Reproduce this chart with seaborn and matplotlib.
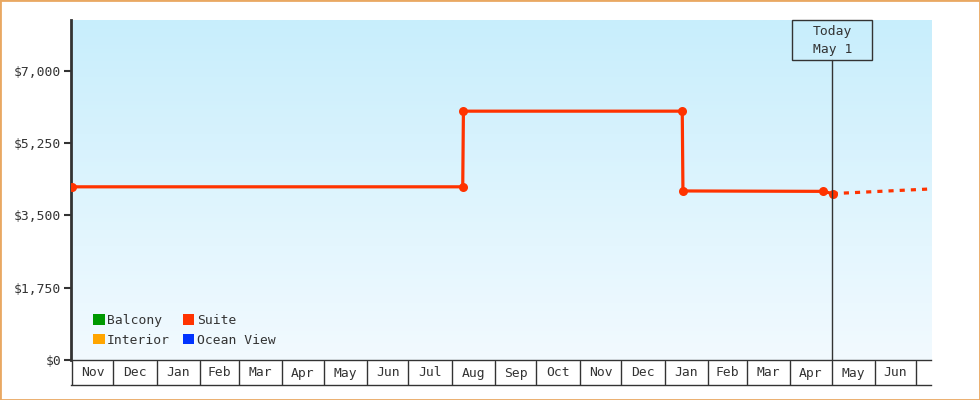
import numpy as np
import pandas as pd
import matplotlib
matplotlib.use("Agg")
import matplotlib.pyplot as plt
import matplotlib.dates as mdates
from matplotlib.patches import Patch, Rectangle
from matplotlib.colors import LinearSegmentedColormap
from matplotlib.ticker import FuncFormatter
import seaborn as sns

# ── Data ──────────────────────────────────────────────────────────────────────
price_dates = ["2024-11-01 00:00", "2025-08-09 00:00", "2025-08-09 12:00", "2026-01-13 18:00",
               "2026-01-14 06:00", "2026-04-25 00:00", "2026-05-01 20:00"]
price_suite = [4189, 4189, 6019, 6019, 4089, 4079, 4025]

forecast_dates = ["2026-05-01 20:00", "2026-07-11 00:00"]
forecast_suite = [4025, 4137]

today = pd.Timestamp("2026-05-01 12:00")
today_label = "Today\nMay 1"

legend_names = ["Balcony", "Interior", "Suite", "Ocean View"]
legend_colors = ["#009900", "#ffa500", "#ff3300", "#0033ff"]

y_ticks = [0, 1750, 3500, 5250, 7000]
y_max = 8224

x_start = pd.Timestamp("2024-10-31 12:00")
x_end = pd.Timestamp("2026-07-11 12:00")
month_labels = ["Nov", "Dec", "Jan", "Feb", "Mar", "Apr", "May", "Jun", "Jul", "Aug",
                "Sep", "Oct", "Nov", "Dec", "Jan", "Feb", "Mar", "Apr", "May", "Jun"]

df = pd.DataFrame({"date": pd.to_datetime(price_dates, format="%Y-%m-%d %H:%M"),
                   "price": price_suite})
df_fc = pd.DataFrame({"date": pd.to_datetime(forecast_dates, format="%Y-%m-%d %H:%M"),
                      "price": forecast_suite})

# ── Style ─────────────────────────────────────────────────────────────────────
sns.set_style("white")
plt.rcParams["font.family"] = ["DejaVu Sans Mono", "DejaVu Sans"]
ink = "#333333"
suite_color = "#ff3300"
fs = 9.4

fig = plt.figure(figsize=(9.8, 4.0), dpi=100)
ax = fig.add_axes([71 / 980, 40 / 400, 860 / 980, 340 / 400])
ax_m = fig.add_axes([71 / 980, 15 / 400, 860 / 980, 24 / 400], sharex=ax)

# gradient background
grad = LinearSegmentedColormap.from_list("bg", ["#f2faff", "#c8eefc"])
ax.imshow(np.linspace(0, 1, 256)[:, None], cmap=grad, origin="lower",
          extent=[0, 1, 0, 1], transform=ax.transAxes, aspect="auto", zorder=0)

# price line
sns.lineplot(data=df, x="date", y="price", ax=ax, color=suite_color, lw=2.3,
             marker="o", markersize=6.5, markeredgewidth=0, zorder=3)
sns.lineplot(data=df_fc, x="date", y="price", ax=ax, color=suite_color, lw=2.3,
             zorder=3)
ax.lines[-1].set_linestyle((0, (1.6, 1.9)))

# today marker
box_top = 1 - 40 / 340
ax.axvline(today, ymin=0, ymax=box_top, color=ink, lw=1, zorder=4)
half_w = 28.8
ax.add_patch(Rectangle((mdates.date2num(today) - half_w, box_top), 2 * half_w, 1 - box_top,
                       transform=ax.get_xaxis_transform(), fill=False, ec=ink, lw=1,
                       zorder=4, clip_on=False))
ax.text(today, (1 + box_top) / 2, today_label, transform=ax.get_xaxis_transform(),
        ha="center", va="center", fontsize=fs, color=ink, linespacing=1.5, zorder=5)

# axes
ax.set_xlim(x_start, x_end)
ax.set_ylim(0, y_max)
ax.set_yticks(y_ticks)
ax.yaxis.set_major_formatter(FuncFormatter(lambda v, _: f"${v:,.0f}"))
ax.tick_params(axis="y", left=True, length=5, width=1.5, color=ink, labelsize=fs,
               labelcolor=ink, pad=2)
ax.tick_params(axis="x", bottom=False, labelbottom=False)
ax.set_xlabel("")
ax.set_ylabel("")
for side in ["top", "right"]:
    ax.spines[side].set_visible(False)
ax.spines["left"].set_color(ink)
ax.spines["left"].set_linewidth(2)
ax.spines["bottom"].set_color(ink)
ax.spines["bottom"].set_linewidth(1)

# legend
handles = [Patch(facecolor=c, edgecolor="none") for c in legend_colors]
ax.legend(handles, legend_names, ncol=2, loc="lower left", bbox_to_anchor=(0.0185, 0.02),
          frameon=False, fontsize=fs, handlelength=0.85, handleheight=0.85,
          handletextpad=0.2, columnspacing=1.0, labelspacing=0.5, borderpad=0,
          labelcolor=ink)

# month boxes below the plot
month_starts = pd.date_range("2024-11-01", "2026-07-01", freq="MS")
for m in month_starts:
    ax_m.axvline(m, color=ink, lw=1)
for m0, m1, lab in zip(month_starts[:-1], month_starts[1:], month_labels):
    ax_m.text(m0 + (m1 - m0) / 2, 0.5, lab, ha="center", va="center", fontsize=fs,
              color=ink, transform=ax_m.get_xaxis_transform())
ax_m.set_ylim(0, 1)
ax_m.set_yticks([])
ax_m.tick_params(axis="x", bottom=False, labelbottom=False)
for side in ["top", "right", "left"]:
    ax_m.spines[side].set_visible(False)
ax_m.spines["bottom"].set_color(ink)
ax_m.spines["bottom"].set_linewidth(1)
ax_m.set_facecolor("none")

# figure border
fig.patches.append(Rectangle((0, 0), 1, 1, transform=fig.transFigure, fill=False,
                             ec="#e9a862", lw=2))

plt.savefig("out.png", dpi=100)
plt.close()
